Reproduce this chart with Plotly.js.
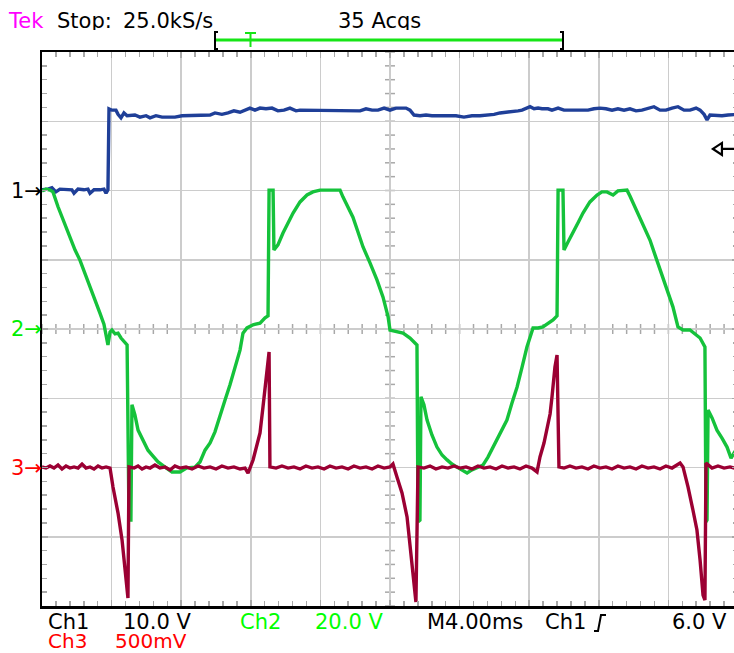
<!DOCTYPE html>
<html>
<head>
<meta charset="utf-8">
<script src="https://cdn.plot.ly/plotly-3.0.1.min.js"></script>
<style>
html,body{margin:0;padding:0;overflow:hidden;background:#fff;}
#plot{width:740px;height:653px;}
</style>
</head>
<body>
<div id="plot"></div>
<script>
// ---- Channel 1 (10.0 V/div), time in ms (4.00 ms/div) ----
const ch1T = [
0,0.34,0.57,0.80,1.03,1.38,1.72,1.84,2.07,2.41,
2.64,2.76,2.99,3.33,3.56,3.68,3.79,3.85,4.02,4.25,
4.37,4.54,4.71,4.89,5.11,5.34,5.63,5.98,6.21,6.55,
6.90,7.24,7.64,8.05,8.51,8.91,9.25,9.66,9.94,10.34,
10.69,11.03,11.38,11.72,11.95,12.24,12.53,12.87,13.22,13.56,
13.91,14.25,14.60,14.83,15.17,15.52,15.86,16.21,16.55,16.90,
17.24,17.59,17.93,18.28,18.62,18.97,19.31,19.66,20.00,20.34,
20.69,20.92,21.15,21.38,21.72,22.07,22.41,22.87,23.33,23.79,
24.25,24.71,25.17,25.63,25.98,26.32,26.67,27.01,27.36,27.59,
27.82,28.05,28.28,28.51,28.74,29.08,29.31,29.66,30.00,30.34,
30.69,31.03,31.38,31.72,32.07,32.41,32.76,33.10,33.45,33.79,
34.14,34.48,34.83,35.17,35.52,35.86,36.21,36.55,36.90,37.24,
37.59,37.82,38.05,38.22,38.39,38.74,39.08,39.43,39.77,40.0];
const ch1V = [
0.1,0.2,0.4,-0.2,0.2,0.1,0.1,-0.4,0.2,0.1,
0.2,-0.4,0.1,0.1,0.2,-0.4,0.1,11.8,11.6,11.6,
11.0,10.5,11.2,10.8,10.8,10.9,10.6,10.8,10.5,10.8,
10.6,10.6,10.6,10.8,10.8,10.9,10.9,10.9,11.2,11.0,
11.2,11.5,11.3,11.6,11.9,11.6,11.9,11.8,11.9,11.5,
11.6,11.9,11.5,11.6,11.6,11.6,11.6,11.5,11.6,11.5,
11.6,11.6,11.6,11.5,11.8,11.6,11.6,11.9,11.6,11.9,
11.9,11.9,11.6,10.9,10.8,10.9,10.8,10.8,10.8,10.8,
10.6,10.8,10.8,10.9,11.0,11.2,11.3,11.3,11.5,11.6,
11.9,12.1,11.8,11.9,11.8,11.8,11.6,11.9,11.6,11.6,
11.6,11.6,11.6,11.8,11.9,11.8,11.6,11.8,11.6,11.8,
11.5,11.6,11.8,12.1,11.6,11.6,11.9,12.1,11.6,11.6,
11.9,11.6,11.0,10.2,10.9,10.8,10.8,10.9,11.0,11.0];

// ---- Channel 2 (20.0 V/div) ----
const ch2T = [
0,0.23,0.46,0.63,0.92,1.26,1.61,1.90,2.18,2.47,
2.76,3.05,3.33,3.56,3.68,3.79,3.91,4.02,4.20,4.37,
4.54,4.77,4.89,5.00,5.11,5.17,5.34,5.52,5.80,6.09,
6.38,6.67,7.07,7.47,7.93,8.33,8.79,9.08,9.37,9.66,
9.94,10.23,10.52,10.80,11.09,11.38,11.55,11.78,12.13,12.53,
12.82,12.99,13.05,13.28,13.33,13.56,13.85,14.14,14.43,14.83,
15.23,15.57,15.98,16.55,17.13,17.30,17.59,17.87,18.16,18.45,
18.85,19.25,19.60,19.89,20.00,20.40,20.75,21.15,21.44,21.55,
21.61,21.72,21.78,21.95,22.13,22.41,22.70,22.99,23.28,23.56,
23.85,24.14,24.43,24.71,25.00,25.34,25.63,25.92,26.32,26.72,
27.01,27.30,27.59,27.87,28.22,28.51,28.79,29.08,29.37,29.60,
29.66,29.94,30.00,30.23,30.52,30.80,31.09,31.49,31.90,32.18,
32.47,32.82,33.10,33.62,33.79,34.08,34.37,34.66,34.94,35.23,
35.57,35.92,36.26,36.55,36.84,37.24,37.53,37.82,38.10,38.16,
38.22,38.28,38.51,38.79,39.08,39.37,39.60,39.77,40.0];
const ch2V = [
39.9,40.4,40.1,39.6,35.3,30.9,26.6,22.8,19.9,16.2,
12.1,8.4,4.6,1.4,-1.2,-4.6,-0.9,-0.3,-1.4,-1.2,
-2.6,-3.8,-4.6,-55.2,-55.2,-21.9,-24.8,-29.2,-32.1,-35.0,
-36.7,-38.4,-39.9,-41.3,-41.3,-40.1,-39.9,-38.4,-35.0,-32.9,
-29.7,-24.8,-20.5,-16.2,-11.3,-6.1,-1.2,0.3,1.2,1.7,
3.2,3.8,40.1,40.1,22.8,24.3,27.7,30.6,33.5,36.7,
38.7,39.6,40.1,40.1,40.1,38.1,35.3,32.3,28.0,23.7,
19.1,14.2,9.2,3.5,-0.3,-0.9,-1.2,-2.6,-4.0,-4.6,
-55.7,-55.2,-19.6,-21.9,-26.3,-30.6,-34.1,-36.4,-37.8,-39.0,
-39.9,-40.7,-41.6,-40.7,-40.1,-39.3,-37.0,-34.1,-30.0,-26.3,
-21.4,-16.8,-11.0,-5.2,0.3,0.3,0.6,1.7,2.6,3.8,
40.1,40.1,22.8,25.1,27.7,30.6,33.5,36.7,38.7,39.6,
39.6,38.7,39.9,40.1,38.4,35.3,32.3,29.2,25.7,21.4,
16.2,11.3,6.4,0.6,-0.3,-0.3,-1.4,-2.6,-5.2,-55.7,
-55.2,-23.4,-25.7,-29.2,-31.5,-34.1,-37.3,-35.8,-37.0];

// ---- Channel 3 (500 mV/div), values in mV ----
const ch3T = [
0,0.23,0.46,0.69,0.92,1.15,1.38,1.61,1.84,2.07,
2.30,2.53,2.76,2.99,3.22,3.45,3.68,3.91,4.08,4.37,
4.60,4.77,4.94,5.00,5.29,5.52,5.75,5.98,6.21,6.49,
6.78,7.07,7.36,7.64,7.93,8.28,8.62,8.97,9.31,9.66,
10.00,10.34,10.69,11.03,11.38,11.67,11.84,12.13,12.36,12.53,
12.70,12.93,13.05,13.10,13.45,13.79,14.14,14.48,14.83,15.17,
15.52,15.86,16.21,16.55,16.90,17.24,17.59,17.93,18.28,18.62,
18.97,19.31,19.66,20.00,20.17,20.40,20.69,20.98,21.15,21.32,
21.49,21.61,21.95,22.30,22.64,22.99,23.33,23.68,24.02,24.37,
24.71,25.06,25.40,25.75,26.09,26.44,26.78,27.13,27.47,27.82,
28.16,28.45,28.62,28.85,29.02,29.20,29.31,29.48,29.60,29.71,
30.00,30.34,30.69,31.03,31.38,31.72,32.07,32.41,32.76,33.10,
33.45,33.79,34.14,34.48,34.83,35.17,35.52,35.86,36.21,36.55,
36.67,36.84,37.13,37.41,37.64,37.82,37.99,38.10,38.16,38.51,
38.85,39.20,39.54,39.77,40.0];
const ch3mV = [
4,-4,11,-4,18,-11,11,-4,4,-4,
25,-4,4,-11,11,-4,4,-4,-141,-329,
-523,-718,-942,4,-4,11,-11,4,-4,18,
-4,4,-18,11,-4,4,-11,11,-4,4,
-11,11,-4,4,-11,-4,-40,54,162,249,
437,682,834,4,-4,11,-4,4,-11,11,
-4,4,-11,11,-4,4,-11,11,-4,4,
-11,11,-4,4,25,-69,-184,-357,-545,-762,
-971,4,-4,11,-11,4,-4,11,-4,4,
-11,11,-4,4,-11,11,-4,4,-11,11,
-4,-32,76,177,271,386,509,726,812,4,
-4,11,-4,4,-11,11,-4,4,-11,11,
-4,4,-11,11,-4,4,-11,11,-4,18,
32,4,-141,-307,-451,-668,-921,-957,32,-4,
11,-4,4,-4,4];

// ---- texts ----
const headerTexts = ["Tek", "Stop:", "25.0kS/s", "35 Acqs"];
const footerRow1 = ["Ch1", "10.0 V", "Ch2", "20.0 V", "M4.00ms", "Ch1", "6.0 V"];
const footerRow2 = ["Ch3", "500mV"];
const chMarkers = ["1", "2", "3"];
const triggerLevelV = 6.0;

// ---- layout helpers (decoration only) ----
const L = 42, T = 52, PW = 696, PH = 554;
const px = p => (p - L) / PW;
const py = p => (T + PH - p) / PH;
const FONT = "DejaVu Sans";
const FS = 21;

const BLUE = "#1f3f98", GREEN = "#15c23b", RED = "#9b0033";
const LW = 3.4;

const traces = [
  {x: ch1T, y: ch1V, type: "scatter", mode: "lines", yaxis: "y",
   line: {color: BLUE, width: LW}, hoverinfo: "skip"},
  {x: ch2T, y: ch2V, type: "scatter", mode: "lines", yaxis: "y2",
   line: {color: GREEN, width: LW}, hoverinfo: "skip"},
  {x: ch3T, y: ch3mV, type: "scatter", mode: "lines", yaxis: "y3",
   line: {color: RED, width: LW}, hoverinfo: "skip"}
];

const shapes = [];
const TICKC = "#a8a8a8";
// center cross tick marks
for (let i = 0; i <= 40; i++) {
  const v = -60 + i * 2;
  shapes.push({type: "line", layer: "below", xref: "x", yref: "y", xsizemode: "pixel", xanchor: 20,
    x0: -5, x1: 5, y0: v, y1: v, line: {color: TICKC, width: 1.5}});
}
for (let i = 0; i <= 50; i++) {
  const t = i * 0.8;
  shapes.push({type: "line", layer: "below", xref: "x", yref: "y", ysizemode: "pixel", yanchor: -20,
    y0: -5, y1: 5, x0: t, x1: t, line: {color: TICKC, width: 1.5}});
}
// record view bar
shapes.push({type: "line", xref: "paper", yref: "paper", x0: px(216), x1: px(562), y0: py(40), y1: py(40),
  line: {color: "#16e516", width: 3}});
shapes.push({type: "path", xref: "paper", yref: "paper",
  path: `M ${px(218)} ${py(32)} L ${px(215)} ${py(32)} L ${px(215)} ${py(49)} L ${px(218)} ${py(49)}`,
  line: {color: "#000", width: 2}});
shapes.push({type: "path", xref: "paper", yref: "paper",
  path: `M ${px(560)} ${py(32)} L ${px(563)} ${py(32)} L ${px(563)} ${py(49)} L ${px(560)} ${py(49)}`,
  line: {color: "#000", width: 2}});
shapes.push({type: "path", xref: "paper", yref: "paper",
  path: `M ${px(245)} ${py(33)} L ${px(256)} ${py(33)} M ${px(250.5)} ${py(33)} L ${px(250.5)} ${py(47)}`,
  line: {color: "#16e516", width: 2}});
// trigger level marker (right side)
shapes.push({type: "path", xref: "x", yref: "y", xsizemode: "pixel", ysizemode: "pixel",
  xanchor: 38.56, yanchor: triggerLevelV,
  path: "M 0 0 L 9 6 L 9 -6 Z M 9 0 L 22 0", line: {color: "#000", width: 2.2}});
// rising-edge symbol
shapes.push({type: "path", xref: "paper", yref: "paper",
  path: `M ${px(594)} ${py(631)} L ${px(598)} ${py(631)} L ${px(601)} ${py(615)} L ${px(606)} ${py(615)}`,
  line: {color: "#000", width: 2}});

const ann = [];
function txt(text, xp, yp, color, size) {
  ann.push({text: text, xref: "paper", yref: "paper", x: px(xp), y: py(yp), xanchor: "left",
    yanchor: "middle", height: 18, showarrow: false, font: {family: FONT, size: size || FS, color: color}});
}
txt(headerTexts[0], 6, 21, "#ff00ff");
txt(headerTexts[1], 55, 21, "#000");
txt(headerTexts[2], 121, 21, "#000");
txt(headerTexts[3], 336, 21, "#000");
txt(footerRow1[0], 46, 622, "#000");
txt(footerRow1[1], 121, 622, "#000");
txt(footerRow1[2], 238, 622, "#00ff00");
txt(footerRow1[3], 313, 622, "#00ff00");
txt(footerRow1[4], 425, 622, "#000");
txt(footerRow1[5], 543, 622, "#000");
txt(footerRow1[6], 670, 622, "#000");
txt(footerRow2[0], 46, 641, "#ff0000", 20);
txt(footerRow2[1], 113, 641, "#ff0000", 20);
// channel ground markers
[["y", "#000"], ["y2", "#00ee00"], ["y3", "#ff0000"]].forEach((c, i) => {
  ann.push({text: chMarkers[i] + "\u2192", xref: "paper", yref: c[0], x: 0, y: 0, xanchor: "right",
    yanchor: "middle", height: 18, xshift: 2, showarrow: false, font: {family: FONT, size: FS, color: c[1]}});
});

const axCommon = {
  showgrid: true, gridcolor: "#cccccc", gridwidth: 1.5, zeroline: false,
  showticklabels: false, ticks: "inside", ticklen: 6, tickcolor: TICKC, tickwidth: 1.5,
  showline: true, linecolor: "#000", linewidth: 2.5, mirror: "ticks", fixedrange: true
};

const layout = {
  width: 740, height: 653,
  margin: {l: L, r: 740 - L - PW, t: T, b: 653 - T - PH, pad: 0},
  paper_bgcolor: "#fff", plot_bgcolor: "#fff",
  showlegend: false,
  xaxis: Object.assign({}, axCommon, {range: [0, 40], dtick: 4, tick0: 0,
    minor: {dtick: 0.8, ticks: "inside", ticklen: 5, tickcolor: TICKC, tickwidth: 1.5, showgrid: false}}),
  yaxis: Object.assign({}, axCommon, {range: [-60, 20], dtick: 10, tick0: 0,
    minor: {dtick: 2, ticks: "inside", ticklen: 5, tickcolor: TICKC, tickwidth: 1.5, showgrid: false}}),
  yaxis2: {overlaying: "y", range: [-80, 80], visible: false, fixedrange: true},
  yaxis3: {overlaying: "y", range: [-1000, 3000], visible: false, fixedrange: true},
  shapes: shapes,
  annotations: ann
};

Plotly.newPlot("plot", traces, layout, {displayModeBar: false, staticPlot: true});
</script>
</body>
</html>
